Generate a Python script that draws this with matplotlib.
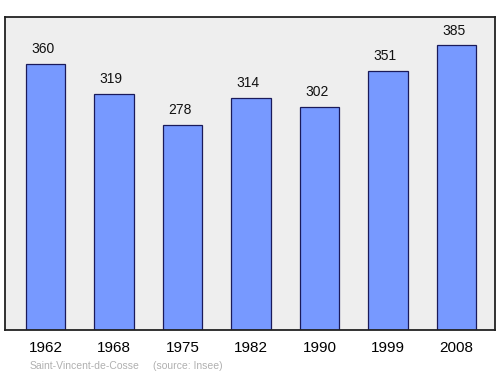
import matplotlib
matplotlib.use("Agg")
import matplotlib.pyplot as plt

years = ["1962", "1968", "1975", "1982", "1990", "1999", "2008"]
population = [360, 319, 278, 314, 302, 351, 385]
commune = "Saint-Vincent-de-Cosse"
source = "(source: Insee)"

W, H = 500, 374
fig = plt.figure(figsize=(W / 100, H / 100), dpi=100)
fig.patch.set_facecolor("white")
ax = fig.add_axes([5 / W, 1 - 330 / H, 490 / W, 313 / H])
ax.set_facecolor("#eeeeee")

x = list(range(len(years)))
ax.bar(x, population, width=0.57, color="#7799ff", edgecolor="#1a1a5a", linewidth=0.9, zorder=2)
for xi, v in zip(x, population):
    ax.text(xi - 0.04, v + 20, str(v), ha="center", va="center", fontsize=10, family="Liberation Sans", color="#111111")

ax.set_xlim(-0.591, 6.562)
ax.set_ylim(0, 423.5)
ax.set_yticks([])
ax.set_xticks(x)
ax.set_xticklabels(years, fontsize=11, family="Liberation Sans")
ax.tick_params(axis="x", length=0, pad=8)
for s in ax.spines.values():
    s.set_linewidth(1.3)
    s.set_color("#222222")

fig.text(30 / W, 1 - 366 / H, commune, fontsize=7.5, color="#b0b0b0",
         family="Liberation Sans", va="center", ha="left")
fig.text(153 / W, 1 - 366 / H, source, fontsize=7.5, color="#b0b0b0",
         family="Liberation Sans", va="center", ha="left")

fig.savefig("out.png", dpi=100)
